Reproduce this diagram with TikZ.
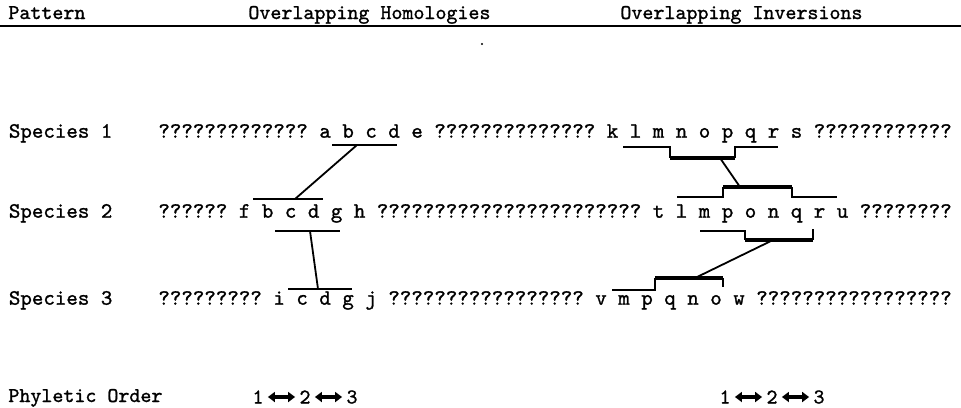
\documentclass[tikz,border=0pt]{standalone}
\usepackage{fontspec}
\usetikzlibrary{arrows.meta}
% typewriter face with a slightly heavier ribbon stroke
\newfontfamily\typer[FakeBold=1.2]{Latin Modern Mono}
\begin{document}
\begin{tikzpicture}[x=0.5pt,y=-0.5pt,
  seq/.style={anchor=base west,inner sep=0pt,font=\fontsize{10.95}{12}\typer\frenchspacing},
  head/.style={anchor=base west,inner sep=0pt,font=\fontsize{10.48}{12}\typer\frenchspacing},
  digit/.style={inner sep=2pt,font=\fontsize{10.48}{12}\typer},
  thinbar/.style={line width=1pt,line join=miter},
  thickbar/.style={line width=2.3pt},
  link/.style={line width=0.9pt},
  order/.style={line width=1.6pt,{Triangle[length=3.5pt,width=5pt]}-{Triangle[length=3.5pt,width=5pt]}}]
\useasboundingbox (0,0) rectangle (961,407);

% column headings and rule
\node[head] (hp) at (8,19) {Pattern};
\node[head] (hh) at (248,19) {Overlapping Homologies};
\node[head] (hi) at (620,19) {Overlapping Inversions};
\draw[line width=1.2pt] (0,26) -- (961,26);
\fill (482,44) circle (0.6pt);

% gene orders of the three species
\node[seq] (l1) at (8.5,137.7) {Species 1};
\node[seq] (s1) at (158,137.7) {????????????? a b c d e ?????????????? k l m n o p q r s ????????????};
\node[seq] (l2) at (8.5,217.7) {Species 2};
\node[seq] (s2) at (158,217.7) {?????? f b c d g h ??????????????????????? t l m p o n q r u ????????};
\node[seq] (l3) at (8.5,304.7) {Species 3};
\node[seq] (s3) at (158,304.7) {????????? i c d g j ????????????????? v m p q n o w ?????????????????};

% overlapping homologies
\coordinate (h1a) at (332,145); \coordinate (h1b) at (397,145); \coordinate (h1m) at (357,145);
\coordinate (h2a) at (253,199); \coordinate (h2b) at (323,199); \coordinate (h2m) at (295,199);
\coordinate (h2c) at (275,231); \coordinate (h2d) at (340,231); \coordinate (h2n) at (310,231);
\coordinate (h3a) at (288,289); \coordinate (h3b) at (352,289); \coordinate (h3m) at (318,289);
\draw[thinbar] (h1a) -- (h1b);
\draw[thinbar] (h2a) -- (h2b);
\draw[thinbar] (h2c) -- (h2d);
\draw[thinbar] (h3a) -- (h3b);
\draw[link] (h1m) -- (h2m);
\draw[link] (h2n) -- (h3m);

% overlapping inversions
\coordinate (i1a) at (623,147); \coordinate (i1b) at (670,147);
\coordinate (i1c) at (670,158); \coordinate (i1d) at (735,158);
\coordinate (i1e) at (735,147); \coordinate (i1f) at (778,147);
\coordinate (i1m) at (720,158);
\draw[thinbar] (i1a) -- (i1b) -- (i1c);
\draw[thickbar] (i1c) -- (i1d);
\draw[thinbar] (i1d) -- (i1e) -- (i1f);

\coordinate (i2a) at (677,197); \coordinate (i2b) at (723,197);
\coordinate (i2c) at (723,187); \coordinate (i2d) at (792,187);
\coordinate (i2e) at (792,197); \coordinate (i2f) at (837,197);
\coordinate (i2m) at (740,187);
\draw[thinbar] (i2a) -- (i2b) -- (i2c);
\draw[thickbar] (i2c) -- (i2d);
\draw[thinbar] (i2d) -- (i2e) -- (i2f);

\coordinate (j2a) at (700,231); \coordinate (j2b) at (745,231);
\coordinate (j2c) at (745,240); \coordinate (j2d) at (813,240);
\coordinate (j2e) at (813,229); \coordinate (j2m) at (773,240);
\draw[thinbar] (j2a) -- (j2b) -- (j2c);
\draw[thickbar] (j2c) -- (j2d);
\draw[thinbar] (j2d) -- (j2e);

\coordinate (i3a) at (612,290); \coordinate (i3b) at (655,290);
\coordinate (i3c) at (655,278); \coordinate (i3d) at (723,278);
\coordinate (i3e) at (723,287); \coordinate (i3m) at (695,278);
\draw[thinbar] (i3a) -- (i3b) -- (i3c);
\draw[thickbar] (i3c) -- (i3d);
\draw[thinbar] (i3d) -- (i3e);

\draw[link] (i1m) -- (i2m);
\draw[link] (j2m) -- (i3m);

% phyletic order
\node[head] (po) at (8,402) {Phyletic Order};
\node[digit] (a1) at (258,397) {1};
\node[digit] (a2) at (305,397) {2};
\node[digit] (a3) at (352,397) {3};
\node[digit] (b1) at (725,397) {1};
\node[digit] (b2) at (772,397) {2};
\node[digit] (b3) at (819,397) {3};
\draw[order] (a1) -- (a2);
\draw[order] (a2) -- (a3);
\draw[order] (b1) -- (b2);
\draw[order] (b2) -- (b3);
\end{tikzpicture}
\end{document}
